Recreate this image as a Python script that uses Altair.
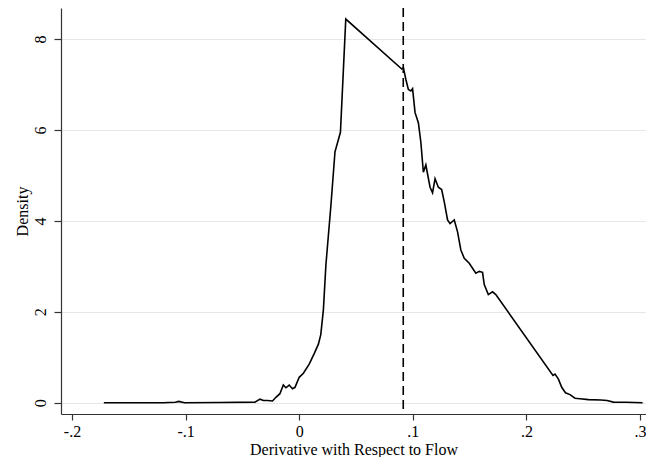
import altair as alt
import pandas as pd

# Kernel density curve
deriv = [-0.172, -0.150, -0.120, -0.109, -0.106, -0.101, -0.070, -0.039, -0.0345, -0.0315,
         -0.028, -0.0235, -0.0205, -0.017, -0.014, -0.0117, -0.0088, -0.0059, -0.0037, 0.000,
         0.0037, 0.0088, 0.0132, 0.0169, 0.019, 0.0213, 0.0235, 0.0279, 0.0315, 0.0363,
         0.041, 0.0903, 0.0917, 0.0939, 0.0961, 0.0983, 0.0998, 0.102, 0.1049, 0.1071,
         0.1093, 0.1115, 0.1152, 0.1174, 0.1196, 0.1225, 0.1254, 0.1277, 0.1306, 0.1328,
         0.1365, 0.1394, 0.1423, 0.1453, 0.1497, 0.1526, 0.1555, 0.1585, 0.1614, 0.1629,
         0.1665, 0.1702, 0.1731, 0.2234, 0.2252, 0.2282, 0.2311, 0.2344, 0.2384, 0.2428,
         0.2472, 0.2546, 0.2656, 0.271, 0.2766, 0.2876, 0.3023]
density = [0.0, 0.0, 0.0, 0.01, 0.03, 0.0, 0.005, 0.015, 0.08, 0.05,
           0.05, 0.04, 0.12, 0.2, 0.39, 0.33, 0.39, 0.31, 0.34, 0.56,
           0.65, 0.85, 1.08, 1.29, 1.5, 2.05, 3.03, 4.34, 5.52, 5.95,
           8.44, 7.34, 7.37, 7.11, 6.89, 6.86, 6.91, 6.38, 6.16, 5.73,
           5.07, 5.23, 4.74, 4.62, 4.93, 4.74, 4.69, 4.42, 4.02, 3.94,
           4.02, 3.76, 3.36, 3.18, 3.07, 2.96, 2.85, 2.89, 2.87, 2.6,
           2.38, 2.44, 2.38, 0.6, 0.63, 0.52, 0.34, 0.22, 0.18, 0.1,
           0.09, 0.07, 0.06, 0.05, 0.015, 0.01, 0.0]
mean_value = [0.0916]

x_ticks = [-0.2, -0.1, 0.0, 0.1, 0.2, 0.3]
x_tick_labels = ["-.2", "-.1", "0", ".1", ".2", ".3"]
y_ticks = [0, 2, 4, 6, 8]

df = pd.DataFrame({"x": deriv, "y": density})
vdf = pd.DataFrame({"x": mean_value})

label_expr = " : ".join(
    f"abs(datum.value - ({v})) < 1e-6 ? '{l}'" for v, l in zip(x_ticks, x_tick_labels)
) + " : ''"

FONT = "Liberation Serif"

xscale = alt.Scale(domain=[-0.2097, 0.3053], nice=False, zero=False)
yscale = alt.Scale(domain=[-0.247, 8.683], nice=False, zero=False)

line = alt.Chart(df).mark_line(color="black", strokeWidth=1.6, clip=True).encode(
    x=alt.X("x:Q", scale=xscale,
            axis=alt.Axis(values=x_ticks, labelExpr=label_expr, title="Derivative with Respect to Flow",
                          grid=False, tickSize=6, labelPadding=3, titleY=40,
                          titleBaseline="alphabetic", labelFlush=False)),
    y=alt.Y("y:Q", scale=yscale,
            axis=alt.Axis(values=y_ticks, title="Density", grid=True, tickSize=7,
                          labelAngle=-90, labelAlign="center", labelBaseline="bottom",
                          labelPadding=6, titleX=-34, titleBaseline="alphabetic",
                          labelFlush=False)),
)

vline = alt.Chart(vdf).mark_rule(color="black", strokeWidth=1.6, strokeDash=[9, 5]).encode(
    x=alt.X("x:Q", scale=xscale)
)

chart = alt.layer(line, vline).properties(
    width=585, height=406,
    autosize=alt.AutoSizeParams(type="none"),
    padding={"left": 53, "top": 0, "right": 0, "bottom": 43},
).configure_view(stroke=None).configure_axis(
    labelFont=FONT, titleFont=FONT, labelFontSize=16, titleFontSize=16,
    labelColor="black", titleColor="black", titleFontWeight="normal",
    domainColor="#333333", tickColor="#333333", domainWidth=1.2, tickWidth=1.2,
    gridColor="#e6e6e6", gridWidth=1.2,
)

chart.save("out.html", embed_options={"renderer": "svg", "actions": False})
